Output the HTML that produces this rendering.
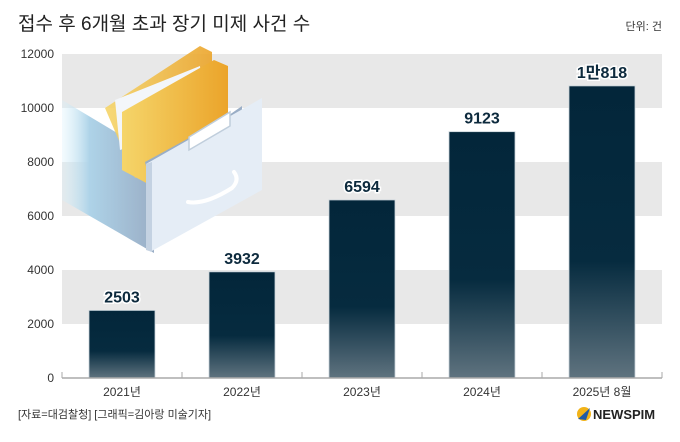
<!DOCTYPE html>
<html><head><meta charset="utf-8">
<style>
body{margin:0;background:#fff;width:680px;height:442px;overflow:hidden;font-family:"Liberation Sans","Noto Sans CJK KR",sans-serif;}
svg{display:block}
</style></head><body>
<svg width="680" height="442">
<defs>
<linearGradient id="bg" x1="0" y1="0" x2="0" y2="1">
<stop offset="0" stop-color="#03263a"/><stop offset="0.6" stop-color="#062b3f"/><stop offset="1" stop-color="#5f737f"/>
</linearGradient>
<linearGradient id="side" x1="0" y1="0" x2="1" y2="0">
<stop offset="0" stop-color="#d8f1fb" stop-opacity="0.3"/><stop offset="0.3" stop-color="#aed3e8"/><stop offset="1" stop-color="#9aaec6"/>
</linearGradient>
<linearGradient id="fold" x1="0" y1="0" x2="1" y2="0">
<stop offset="0" stop-color="#f5d56a"/><stop offset="1" stop-color="#eba42a"/>
</linearGradient>
</defs>
<text x="18" y="30" font-size="19" fill="#222">접수 후 6개월 초과 장기 미제 사건 수</text>
<text x="662" y="30" font-size="11" fill="#333" text-anchor="end">단위: 건</text>
<g id="bands"></g>
<g id="yticks"></g>
<g>
<polygon points="62,100 154,155 154,253 62,200" fill="url(#side)"/>
<polygon points="105,108 200,46 212,52 212,140 135,178" fill="url(#fold)" opacity="0.9"/>
<polygon points="115,100 200,66 205,120 120,150" fill="#f3f6fa"/>
<polygon points="122,112 214,60 228,66 228,145 150,185 122,170" fill="url(#fold)"/>
<polygon points="145,162 222,120 242,106 242,158 153,196" fill="#9aaec6"/>
<polygon points="146,164 262,98 262,190 150,252" fill="#e5edf6"/>
<polygon points="146,164 152,162 152,252 146,250" fill="#c4d2e2"/>
<polygon points="189,137 230,112 230,126 189,150" fill="#fff" stroke="#c0cedc" stroke-width="1.5"/>
<path d="M188,202 Q205,205 232,188 Q240,180 234,172" stroke="#fff" stroke-width="4" fill="none" stroke-linecap="round"/>
</g>
<g id="bars"></g>
<line x1="62" y1="378" x2="662" y2="378" stroke="#aaa" stroke-width="1.5"/>
<g id="xticks"></g>
<text x="18" y="418" font-size="11" fill="#333">[자료=대검찰청] [그래픽=김아랑 미술기자]</text>
<g>
<circle cx="584" cy="414" r="7" fill="#f2b318"/>
<path d="M578,419 L590,408 L586,420 Z" fill="#1f5aa6"/>
<text x="593" y="419" font-size="13" font-weight="bold" fill="#222">NEWSPIM</text>
</g>
</svg>
<script>
const categories=["2021년","2022년","2023년","2024년","2025년 8월"];
const values=[2503,3932,6594,9123,10818];
const valueLabels=["2503","3932","6594","9123","1만818"];
const yTicks=[0,2000,4000,6000,8000,10000,12000];
const NS="http://www.w3.org/2000/svg";
const L=62,R=662,T=54,B=378,MAX=12000;
const y=v=>B-(v/MAX)*(B-T);
const step=(R-L)/categories.length;
const x=i=>L+step*(i+0.5);
function mk(t,a,p){const e=document.createElementNS(NS,t);for(const k in a)e.setAttribute(k,a[k]);p.appendChild(e);return e;}
const bands=document.getElementById('bands');
for(let i=0;i<yTicks.length-1;i++){
 if(i%2===1){const r=mk('rect',{x:L,y:y(yTicks[i+1]),width:R-L,height:y(yTicks[i])-y(yTicks[i+1]),fill:'#e8e8e8'},bands);
 
 }
}
const yt=document.getElementById('yticks');
yTicks.forEach(v=>{const t=mk('text',{x:54,y:y(v)+4,'font-size':12,fill:'#333','text-anchor':'end'},yt);t.textContent=v;

});
const bars=document.getElementById('bars');
const bw=66;
values.forEach((v,i)=>{
 const r=mk('rect',{x:x(i)-bw/2,y:y(v),width:bw,height:B-y(v),fill:'url(#bg)',stroke:'#c9d3da','stroke-width':0.8},bars);
 
 
 const t=mk('text',{x:x(i),y:y(v)-8,'font-size':16,'font-weight':'bold',fill:'#0d2a3d','text-anchor':'middle',stroke:'#fff','stroke-width':3,'paint-order':'stroke'},bars);
 t.textContent=valueLabels[i];
 
 
});
const xt=document.getElementById('xticks');
categories.forEach((c,i)=>{
 const t=mk('text',{x:x(i),y:396,'font-size':12,fill:'#333','text-anchor':'middle'},xt);t.textContent=c;
 
 
});
for(let i=0;i<=categories.length;i++){
 const l=mk('line',{x1:L+step*i,x2:L+step*i,y1:372,y2:378,stroke:'#aaa'},xt);
 
 
}
</script>
</body></html>
